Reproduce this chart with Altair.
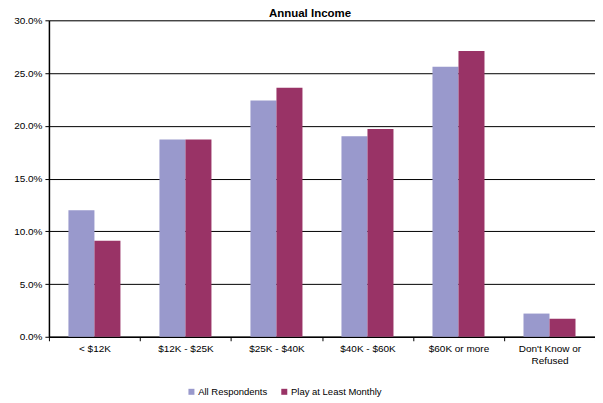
import altair as alt
import pandas as pd

categories = ["< $12K", "$12K - $25K", "$25K - $40K", "$40K - $60K", "$60K or more", "Don't Know or Refused"]
series = ["All Respondents", "Play at Least Monthly"]
all_resp = [12.0, 18.7, 22.4, 19.0, 25.6, 2.2]
play_monthly = [9.1, 18.7, 23.6, 19.7, 27.1, 1.7]

rows = []
for c, a, p in zip(categories, all_resp, play_monthly):
    rows.append({"cat": c, "series": series[0], "value": a / 100})
    rows.append({"cat": c, "series": series[1], "value": p / 100})
df = pd.DataFrame(rows)

FONT = "Liberation Sans"

chart = alt.Chart(df).mark_bar().encode(
    x=alt.X("cat:N", sort=categories, title=None,
            scale=alt.Scale(paddingInner=0, paddingOuter=0),
            axis=alt.Axis(labelAngle=0, tickBand="extent", domainColor="#000000",
                          domainWidth=1.5, tickColor="#000000", tickSize=4,
                          labelFont=FONT, labelFontSize=10, labelColor="#000000",
                          labelPadding=3,
                          labelExpr="indexof(datum.label, ' Refused') >= 0 ? [replace(datum.label, ' Refused', ''), 'Refused'] : datum.label")),
    xOffset=alt.XOffset("series:N", sort=series,
                        scale=alt.Scale(paddingInner=0, paddingOuter=0.75)),
    y=alt.Y("value:Q", title=None,
            scale=alt.Scale(domain=[0, 0.30]),
            axis=alt.Axis(format=".1%", values=[0, 0.05, 0.10, 0.15, 0.20, 0.25, 0.30],
                          grid=True, gridColor="#000000", gridWidth=1, gridOpacity=1,
                          domainColor="#000000", domainWidth=1.5,
                          tickColor="#000000", tickSize=4,
                          labelFont=FONT, labelFontSize=10, labelColor="#000000",
                          labelPadding=3)),
    color=alt.Color("series:N", sort=series,
                    scale=alt.Scale(domain=series, range=["#9999CC", "#993366"]),
                    legend=alt.Legend(title=None, orient="none", direction="horizontal",
                                      legendX=138, legendY=367,
                                      symbolType="square", symbolSize=36,
                                      symbolStrokeWidth=0,
                                      labelFont=FONT, labelFontSize=9.5,
                                      labelColor="#000000", columnPadding=12,
                                      labelOffset=2)),
).properties(
    width=547,
    height=317,
    title=alt.TitleParams("Annual Income", font=FONT, fontSize=11.5, fontWeight="bold",
                          color="#000000", offset=-4, frame="group", dx=-12),
    autosize=alt.AutoSizeParams(type="none"),
    padding={"left": 41, "top": 12, "right": 0, "bottom": 62},
).configure_view(
    fill="#C0C0C0", stroke="#808080", strokeWidth=1.5
).configure(background="#FFFFFF")

chart.save("out.html", embed_options={"renderer": "svg", "actions": False})
